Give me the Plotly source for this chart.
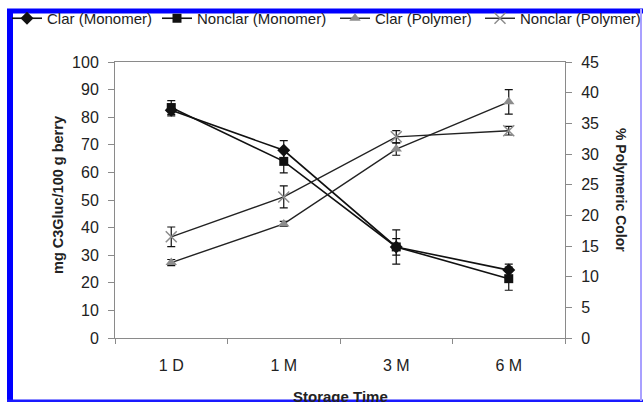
import plotly.graph_objects as go

categories = ["1 D", "1 M", "3 M", "6 M"]

clar_mono = [82.5, 68, 33, 24.6]
clar_mono_err = [2.0, 3.5, 3.0, 2.2]
nonclar_mono = [83.5, 64, 33, 21.5]
nonclar_mono_err = [2.5, 4.2, 6.2, 4.2]

clar_poly = [12.3, 18.6, 30.8, 38.5]
clar_poly_err = [0.5, 0.4, 1.0, 2.0]
nonclar_poly = [16.5, 23.0, 32.8, 33.8]
nonclar_poly_err = [1.6, 1.8, 1.0, 0.7]

left_ticks = list(range(0, 101, 10))
right_ticks = list(range(0, 46, 5))

FONT = "Liberation Sans, Arial, sans-serif"
GRAY_AX = "#8a8a8a"
TXT = "#222222"

L, R, T, B = 115, 78, 62, 64
W, H = 643, 402
PW, PH = W - L - R, H - T - B


def px_x(p):
    return (p - L) / PW


def px_y(p):
    return (H - B - p) / PH


def err(vals):
    return dict(type="data", array=vals, visible=True, color="#111111",
                thickness=1.2, width=4)


fig = go.Figure()
fig.add_trace(go.Scatter(
    x=categories, y=clar_mono, name="Clar (Monomer)", mode="lines+markers",
    legend="legend",
    line=dict(color="#111111", width=1.6),
    marker=dict(symbol="diamond", size=10, color="#111111"),
    error_y=err(clar_mono_err)))
fig.add_trace(go.Scatter(
    x=categories, y=nonclar_mono, name="Nonclar (Monomer)", mode="lines+markers",
    legend="legend2",
    line=dict(color="#111111", width=1.6),
    marker=dict(symbol="square", size=9, color="#111111"),
    error_y=err(nonclar_mono_err)))
fig.add_trace(go.Scatter(
    x=categories, y=clar_poly, name="Clar (Polymer)", mode="lines+markers",
    yaxis="y2", legend="legend3",
    line=dict(color="#222222", width=1.4),
    marker=dict(symbol="triangle-up", size=10, color="#8c8c8c"),
    error_y=err(clar_poly_err)))
fig.add_trace(go.Scatter(
    x=categories, y=nonclar_poly, name="Nonclar (Polymer)", mode="lines+markers",
    yaxis="y2", legend="legend4",
    line=dict(color="#222222", width=1.4),
    marker=dict(symbol="x-thin", size=11, color="#8c8c8c",
                line=dict(color="#8c8c8c", width=1.5)),
    error_y=err(nonclar_poly_err)))


def leg(px_left):
    return dict(orientation="h", x=px_x(px_left), xanchor="left",
                y=px_y(18.5), yanchor="middle", borderwidth=0,
                font=dict(size=15, color="#222222", family=FONT),
                bgcolor="rgba(0,0,0,0)", itemwidth=30)


fig.update_layout(
    width=W, height=H,
    margin=dict(l=L, r=R, t=T, b=B, autoexpand=False),
    paper_bgcolor="white", plot_bgcolor="white",
    font=dict(family=FONT, size=16, color=TXT),
    showlegend=True,
    legend=leg(7), legend2=leg(157), legend3=leg(335), legend4=leg(480),
    xaxis=dict(type="category", range=[-0.5, 3.5], showline=True,
               linecolor=GRAY_AX, linewidth=1, mirror=True,
               ticks="outside", ticklen=5, tickcolor=GRAY_AX, tickson="boundaries",
               ticklabelstandoff=13, showgrid=False, zeroline=False,
               tickfont=dict(size=16, color=TXT)),
    yaxis=dict(range=[0, 100], tickvals=left_ticks, showline=True,
               linecolor=GRAY_AX, linewidth=1, ticks="outside", ticklen=6,
               tickcolor=GRAY_AX, ticklabelstandoff=6, showgrid=False,
               zeroline=False, tickfont=dict(size=16, color=TXT)),
    yaxis2=dict(range=[0, 45], tickvals=right_ticks, overlaying="y", side="right",
                showline=True, linecolor=GRAY_AX, linewidth=1, ticks="outside",
                ticklen=6, tickcolor=GRAY_AX, ticklabelstandoff=6,
                showgrid=False, zeroline=False, tickfont=dict(size=16, color=TXT)),
)

fig.add_annotation(text="<b>mg C3Gluc/100 g berry</b>", xref="paper", yref="paper",
                   x=px_x(58), y=px_y(195), xanchor="center", yanchor="middle",
                   textangle=-90, showarrow=False,
                   font=dict(size=14.5, color=TXT))
fig.add_annotation(text="<b>% Polymeric Color</b>", xref="paper", yref="paper",
                   x=px_x(621), y=px_y(190), xanchor="center", yanchor="middle",
                   textangle=90, showarrow=False,
                   font=dict(size=14, color=TXT))
fig.add_annotation(text="<b>Storage Time</b>", xref="paper", yref="paper",
                   x=0.5, y=px_y(396), xanchor="center", yanchor="middle",
                   showarrow=False, font=dict(size=15, color=TXT))

# blue frame of the cropped figure
fig.add_shape(type="rect", xref="paper", yref="paper", layer="above",
              x0=px_x(7), x1=px_x(13), y0=px_y(401), y1=px_y(9),
              fillcolor="#0000ff", line=dict(width=0))
fig.add_shape(type="rect", xref="paper", yref="paper", layer="above",
              x0=px_x(7), x1=px_x(643), y0=px_y(13.5), y1=px_y(8.5),
              fillcolor="#0000ff", line=dict(width=0))
fig.add_shape(type="rect", xref="paper", yref="paper", layer="above",
              x0=px_x(7), x1=px_x(643), y0=px_y(402), y1=px_y(399.5),
              fillcolor="#1a1aff", line=dict(width=0))
fig.add_shape(type="rect", xref="paper", yref="paper", layer="above",
              x0=px_x(640), x1=px_x(642), y0=px_y(401), y1=px_y(9),
              fillcolor="#a9a0ff", line=dict(width=0))

fig.write_html("out.html", config={"displayModeBar": False},
               post_script="document.body.style.margin='0';")
